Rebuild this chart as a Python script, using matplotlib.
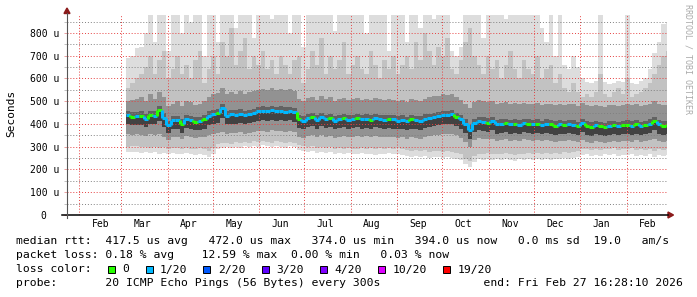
"""
SmokePing style 400 day latency graph (median rtt + smoke)
"""

import pandas as pd
import matplotlib
matplotlib.use('Agg')
import matplotlib.pyplot as plt
import matplotlib.dates as mdates
from matplotlib.ticker import NullFormatter
from matplotlib.patches import Polygon, Rectangle
from matplotlib.lines import Line2D

W, H = 697, 297
MONO = 'DejaVu Sans Mono'

end_time = pd.Timestamp('2026-02-27 16:28:10')
start_time = end_time - pd.Timedelta(days=400)
sample_start = '2025-03-04'   # one sample every 3 days

# median rtt (microseconds)
median_us = [
    440, 432, 434, 436, 422, 440, 437, 460, 428, 395,
    418, 416, 400, 421, 418, 410, 414, 420, 436, 444,
    447, 472, 436, 442, 440, 446, 438, 444, 448, 456,
    458, 455, 460, 457, 459, 454, 458, 452, 420, 414,
    425, 430, 418, 432, 422, 428, 415, 420, 426, 418,
    422, 425, 420, 424, 419, 426, 422, 418, 421, 420,
    415, 418, 412, 420, 418, 414, 424, 428, 432, 434,
    440, 438, 442, 430, 420, 400, 374, 404, 414, 410,
    406, 412, 398, 402, 405, 398, 402, 396, 404, 400,
    398, 402, 395, 400, 398, 392, 398, 394, 399, 396,
    390, 404, 392, 388, 394, 390, 386, 392, 395, 390,
    394, 396, 392, 398, 390, 395, 400, 412, 398, 392,
    394]

# lost pings out of 20 per sample
loss = [
    1, 0, 1, 0, 1, 0, 1, 0, 1, 1,
    1, 1, 0, 1, 1, 0, 1, 0, 1, 1,
    0, 1, 1, 1, 1, 1, 1, 1, 1, 1,
    1, 1, 1, 1, 1, 1, 1, 1, 0, 1,
    1, 0, 1, 1, 1, 0, 1, 1, 0, 1,
    1, 0, 1, 1, 0, 1, 1, 1, 0, 1,
    1, 1, 1, 0, 1, 1, 1, 1, 1, 1,
    1, 1, 1, 0, 1, 1, 1, 1, 1, 1,
    0, 1, 1, 1, 0, 1, 0, 1, 1, 0,
    1, 0, 1, 1, 0, 0, 1, 0, 1, 1,
    0, 1, 0, 0, 1, 0, 0, 1, 0, 1,
    0, 0, 1, 0, 1, 0, 1, 0, 1, 0,
    0]

# smoke: slowest / fastest ping
hi1_us = [
    690, 700, 735, 740, 800, 880, 760, 880, 880, 720,
    880, 880, 800, 880, 850, 880, 880, 700, 880, 880,
    760, 880, 880, 880, 820, 880, 880, 880, 780, 880,
    880, 880, 860, 880, 880, 880, 800, 880, 880, 740,
    880, 880, 880, 880, 880, 880, 810, 880, 880, 880,
    880, 880, 880, 800, 880, 880, 880, 880, 720, 880,
    880, 880, 760, 880, 880, 820, 880, 880, 860, 880,
    880, 880, 720, 700, 740, 880, 880, 880, 880, 780,
    880, 880, 880, 880, 860, 880, 880, 880, 880, 880,
    880, 880, 820, 760, 880, 700, 880, 660, 640, 700,
    650, 600, 585, 580, 590, 880, 585, 575, 580, 590,
    585, 880, 580, 575, 590, 600, 640, 710, 760, 840,
    850]
lo1_us = [
    277, 276, 278, 274, 276, 272, 275, 270, 273, 268,
    272, 270, 266, 271, 268, 265, 270, 262, 256, 270,
    292, 296, 298, 294, 300, 296, 302, 298, 305, 300,
    306, 302, 298, 304, 300, 296, 302, 298, 285, 280,
    276, 282, 274, 278, 272, 276, 270, 274, 268, 272,
    270, 266, 272, 268, 270, 265, 270, 268, 272, 266,
    270, 262, 258, 255, 260, 254, 258, 252, 256, 254,
    250, 256, 252, 248, 240, 222, 212, 232, 244, 240,
    246, 242, 244, 240, 246, 242, 238, 244, 240, 246,
    242, 245, 240, 246, 243, 248, 244, 250, 246, 252,
    256, 262, 266, 260, 264, 258, 266, 262, 268, 260,
    265, 262, 268, 258, 264, 260, 266, 255, 262, 260,
    264]

# smoke: outer ranks
hi2_us = [
    560, 580, 600, 620, 650, 700, 620, 680, 720, 600,
    640, 700, 620, 660, 600, 680, 720, 580, 640, 700,
    620, 760, 700, 820, 660, 720, 780, 640, 700, 660,
    720, 640, 680, 620, 700, 660, 620, 680, 700, 580,
    640, 720, 660, 780, 620, 700, 640, 680, 760, 620,
    660, 700, 640, 620, 720, 660, 600, 680, 640, 700,
    620, 660, 700, 640, 760, 680, 800, 720, 660, 740,
    700, 780, 640, 620, 680, 760, 820, 700, 660, 620,
    700, 640, 680, 600, 660, 720, 640, 600, 680, 640,
    620, 700, 600, 640, 660, 580, 620, 560, 540, 580,
    540, 520, 530, 520, 540, 620, 530, 520, 540, 560,
    530, 600, 520, 530, 540, 560, 580, 620, 660, 700,
    720]
lo2_us = [
    300, 302, 305, 300, 298, 296, 300, 295, 298, 292,
    296, 294, 290, 296, 292, 290, 294, 288, 282, 295,
    312, 316, 318, 314, 320, 316, 322, 318, 325, 320,
    326, 322, 318, 324, 320, 316, 322, 318, 308, 302,
    298, 304, 296, 300, 295, 298, 292, 296, 290, 294,
    292, 290, 295, 292, 294, 290, 294, 292, 296, 290,
    294, 288, 284, 280, 286, 280, 284, 278, 282, 280,
    278, 282, 278, 274, 266, 248, 236, 258, 270, 266,
    272, 268, 270, 266, 272, 268, 264, 270, 266, 272,
    268, 271, 266, 272, 269, 274, 270, 276, 272, 278,
    282, 288, 292, 286, 290, 284, 292, 288, 294, 286,
    291, 288, 294, 284, 290, 286, 292, 281, 288, 286,
    290]

# smoke: middle ranks
hi3_us = [
    500, 505, 510, 520, 500, 530, 510, 540, 520, 480,
    490, 500, 480, 500, 495, 485, 490, 500, 520, 530,
    535, 560, 530, 540, 530, 545, 530, 540, 545, 550,
    555, 550, 560, 550, 555, 548, 552, 545, 510, 500,
    515, 520, 505, 525, 510, 520, 500, 510, 515, 505,
    510, 515, 505, 512, 505, 515, 510, 505, 510, 505,
    500, 505, 498, 510, 505, 500, 512, 518, 522, 525,
    530, 528, 532, 520, 505, 490, 470, 495, 505, 500,
    496, 502, 488, 492, 495, 488, 492, 486, 494, 490,
    488, 492, 485, 490, 488, 482, 488, 484, 489, 486,
    480, 494, 482, 478, 484, 480, 476, 482, 485, 480,
    484, 486, 482, 488, 480, 485, 490, 500, 488, 482,
    484]
lo3_us = [
    355, 352, 356, 350, 348, 354, 350, 356, 345, 330,
    345, 342, 335, 346, 344, 338, 342, 345, 352, 356,
    360, 365, 358, 362, 360, 364, 358, 362, 366, 368,
    370, 366, 372, 368, 370, 365, 368, 364, 345, 340,
    348, 352, 342, 350, 345, 348, 340, 344, 348, 342,
    345, 348, 344, 346, 342, 348, 345, 342, 344, 343,
    340, 342, 336, 342, 340, 336, 344, 348, 350, 352,
    356, 354, 356, 350, 340, 320, 300, 328, 338, 335,
    332, 336, 326, 330, 332, 326, 330, 324, 332, 328,
    326, 330, 324, 328, 326, 322, 326, 324, 328, 325,
    320, 330, 322, 318, 324, 320, 316, 322, 325, 320,
    324, 326, 322, 328, 320, 325, 328, 335, 326, 322,
    324]

# smoke: ranks next to the median
hi4_us = [
    458, 452, 452, 455, 442, 458, 456, 478, 448, 415,
    436, 435, 420, 440, 436, 430, 432, 440, 455, 462,
    466, 488, 456, 460, 460, 464, 458, 462, 468, 475,
    478, 474, 480, 476, 478, 474, 476, 472, 440, 434,
    444, 448, 438, 450, 440, 446, 435, 440, 445, 438,
    440, 444, 440, 442, 438, 445, 440, 438, 440, 440,
    435, 438, 432, 440, 436, 434, 442, 446, 450, 452,
    458, 456, 460, 448, 440, 420, 396, 422, 432, 430,
    425, 430, 418, 422, 424, 418, 422, 416, 424, 420,
    418, 422, 415, 420, 418, 412, 418, 414, 418, 416,
    410, 422, 412, 408, 414, 410, 406, 412, 414, 410,
    414, 416, 412, 418, 410, 414, 420, 430, 418, 412,
    414]
lo4_us = [
    400, 394, 395, 396, 385, 400, 398, 415, 388, 360,
    378, 376, 362, 382, 378, 372, 375, 380, 396, 402,
    405, 425, 398, 402, 400, 405, 398, 404, 408, 414,
    416, 414, 418, 415, 418, 412, 416, 410, 382, 376,
    386, 390, 380, 392, 382, 388, 376, 382, 386, 380,
    382, 386, 380, 384, 380, 386, 382, 378, 382, 380,
    376, 380, 372, 380, 378, 374, 384, 388, 392, 394,
    400, 398, 402, 390, 380, 360, 336, 364, 374, 370,
    366, 372, 358, 362, 365, 358, 362, 356, 364, 360,
    358, 362, 355, 360, 358, 352, 358, 354, 359, 356,
    350, 364, 352, 348, 354, 350, 346, 352, 355, 350,
    354, 356, 352, 358, 350, 355, 360, 372, 358, 352,
    354]

loss_colors = {0: '#26ff00', 1: '#00b8ff'}
legend_loss = [('0', '#26ff00'), ('1/20', '#00b8ff'), ('2/20', '#0059ff'),
               ('3/20', '#5e00ff'), ('4/20', '#7e00ff'), ('10/20', '#dd00ff'),
               ('19/20', '#ff0000')]
y_ticks = [0, 100, 200, 300, 400, 500, 600, 700, 800]
y_labels = ['0  ', '100 u', '200 u', '300 u', '400 u', '500 u', '600 u',
            '700 u', '800 u']


def fxy(x, y):
    return x / W, 1 - y / H


fig = plt.figure(figsize=(W / 100, H / 100), dpi=100)
ax = fig.add_axes([67 / W, 1 - 215 / H, 600 / W, 200 / H])

edges = pd.date_range(sample_start, periods=len(median_us) + 1, freq='3D')
edges = mdates.date2num(edges.to_pydatetime())

ax.stairs(hi1_us, edges, baseline=lo1_us, fill=True, color='#dddddd', lw=0, zorder=1)
ax.stairs(hi2_us, edges, baseline=lo2_us, fill=True, color='#c2c2c2', lw=0, zorder=1)
ax.stairs(hi3_us, edges, baseline=lo3_us, fill=True, color='#929292', lw=0, zorder=1)
ax.stairs(hi4_us, edges, baseline=lo4_us, fill=True, color='#626262', lw=0, zorder=1)
ax.stairs(median_us, edges, baseline=lo4_us, fill=True, color='#424242', lw=0, zorder=1)

cols = [loss_colors[l] for l in loss]
ax.hlines(median_us, edges[:-1], edges[1:], colors=cols, lw=2.2, zorder=4)
ax.vlines(edges[1:-1], median_us[:-1], median_us[1:], colors=cols[1:], lw=2.2, zorder=4)

ax.set_xlim(mdates.date2num(start_time.to_pydatetime()),
            mdates.date2num(end_time.to_pydatetime()))
ax.set_ylim(0, 879)

ax.xaxis.set_major_locator(mdates.MonthLocator())
ax.xaxis.set_major_formatter(NullFormatter())
ax.xaxis.set_minor_locator(mdates.MonthLocator(bymonthday=15))
ax.xaxis.set_minor_formatter(mdates.DateFormatter('%b'))
ax.tick_params(axis='x', which='both', length=0, pad=3, labelsize=7)

ax.set_yticks(y_ticks)
ax.set_yticklabels(y_labels)
ax.set_yticks([50 + 100 * k for k in range(9)], minor=True)
ax.tick_params(axis='y', which='major', length=2.5, width=0.7, color='#eaa0a0',
               pad=3.3, labelsize=7)
ax.tick_params(axis='y', which='minor', length=2.5, width=0.7, color='#c0c0c0')
for lab in ax.get_xticklabels(minor=True) + ax.get_yticklabels():
    lab.set_fontfamily(MONO)

ax.set_axisbelow(False)
ax.grid(True, which='major', axis='both', color=(0.9, 0.25, 0.25, 0.28),
        linestyle=(0, (1, 2)), lw=0.7)
ax.yaxis.grid(True, which='minor', color=(0.5, 0.5, 0.5, 0.35),
              linestyle=(0, (1, 2)), lw=0.7)
ax.xaxis.grid(False, which='minor')

for s in ax.spines.values():
    s.set_visible(False)
ax.set_facecolor('white')

# axes with arrows
fig.add_artist(Line2D(*zip(fxy(62, 215), fxy(668, 215)), color='black', lw=1.1))
fig.add_artist(Line2D(*zip(fxy(67, 218), fxy(67, 13)), color='#555555', lw=0.8))
fig.add_artist(Polygon([fxy(67, 8), fxy(64, 13.5), fxy(70, 13.5)], closed=True,
                       color='#8b1a1a', transform=fig.transFigure))
fig.add_artist(Polygon([fxy(673.5, 215), fxy(668, 212), fxy(668, 218)], closed=True,
                       color='#8b1a1a', transform=fig.transFigure))

fig.text(*fxy(11, 113), 'Seconds', rotation=90, ha='center', va='center',
         fontsize=8, family=MONO)
fig.text(*fxy(688, 4), 'RRDTOOL / TOBI OETIKER', rotation=270, ha='center', va='top',
         fontsize=6, family=MONO, color='#aaaaaa')

# legend
fs = 8.2
line1 = 'median rtt:  417.5 us avg   472.0 us max   374.0 us min   394.0 us now   0.0 ms sd  19.0   am/s'
line2 = 'packet loss: 0.18 % avg    12.59 % max  0.00 % min   0.03 % now'
line4 = 'probe:       20 ICMP Echo Pings (56 Bytes) every 300s               end: Fri Feb 27 16:28:10 2026'
for txt, yc in ((line1, 241.5), (line2, 255.5), (line4, 283.5)):
    fig.text(*fxy(16, yc), txt, ha='left', va='center', fontsize=fs, family=MONO)

fig.text(*fxy(16, 269.5), 'loss color:', ha='left', va='center', fontsize=fs, family=MONO)
sq_x = [108, 146, 203, 262, 320, 378, 443]
lab_x = [122, 160, 218, 276, 334, 393, 458]
for (name, c), sx, lx in zip(legend_loss, sq_x, lab_x):
    x0, y0 = fxy(sx, 273)
    fig.add_artist(Rectangle((x0, y0), 7 / W, 7.5 / H, facecolor=c, edgecolor='black',
                             lw=0.7, transform=fig.transFigure))
    fig.text(*fxy(lx, 269.5), name, ha='left', va='center', fontsize=fs, family=MONO)

fig.savefig('out.png', dpi=100, facecolor='white')
